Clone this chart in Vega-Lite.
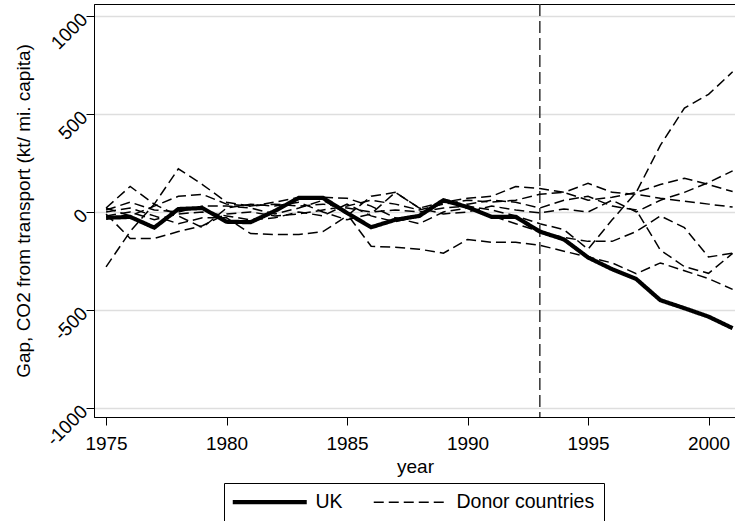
{
  "$schema": "https://vega.github.io/schema/vega-lite/v6.json",
  "width": 642,
  "height": 413,
  "autosize": {"type": "none"},
  "padding": {"left": 94, "top": 4, "right": 0, "bottom": 104},
  "background": "white",
  "config": {
    "font": "Liberation Sans",
    "view": {"stroke": "black", "strokeWidth": 1},
    "axis": {
      "labelFont": "Liberation Sans", "titleFont": "Liberation Sans",
      "labelFontSize": 19, "titleFontSize": 19, "titleFontWeight": "normal",
      "labelColor": "black", "titleColor": "black",
      "domainColor": "black", "tickColor": "black", "tickSize": 8, "tickWidth": 1
    },
    "axisX": {"grid": false, "labelPadding": 9, "titlePadding": 4},
    "axisY": {
      "grid": true, "gridColor": "#dedede", "gridWidth": 1.5,
      "labelAngle": -45, "labelAlign": "right", "labelBaseline": "middle", "labelPadding": 2,
      "titleX": -61, "titleY": 206.5
    },
    "legend": {
      "orient": "none", "legendX": 130, "legendY": 479, "direction": "horizontal", "title": null,
      "strokeColor": "black", "padding": 9, "labelFontSize": 19.5, "labelColor": "black", "labelFont": "Liberation Sans",
      "symbolType": "M-2,0H12.8", "symbolSize": 100, "columnPadding": 27, "labelOffset": 63,
      "symbolStrokeColor": "black", "fillColor": "white"
    }
  },
  "datasets": {
    "gaps": [
      {"c":"UK","g":"UK","year":1975,"v":-30},{"c":"UK","g":"UK","year":1976,"v":-25},{"c":"UK","g":"UK","year":1977,"v":-80},{"c":"UK","g":"UK","year":1978,"v":15},{"c":"UK","g":"UK","year":1979,"v":20},{"c":"UK","g":"UK","year":1980,"v":-50},{"c":"UK","g":"UK","year":1981,"v":-52},{"c":"UK","g":"UK","year":1982,"v":5},{"c":"UK","g":"UK","year":1983,"v":72},{"c":"UK","g":"UK","year":1984,"v":72},{"c":"UK","g":"UK","year":1985,"v":-5},{"c":"UK","g":"UK","year":1986,"v":-78},{"c":"UK","g":"UK","year":1987,"v":-40},{"c":"UK","g":"UK","year":1988,"v":-20},{"c":"UK","g":"UK","year":1989,"v":60},{"c":"UK","g":"UK","year":1990,"v":25},{"c":"UK","g":"UK","year":1991,"v":-25},{"c":"UK","g":"UK","year":1992,"v":-25},{"c":"UK","g":"UK","year":1993,"v":-100},{"c":"UK","g":"UK","year":1994,"v":-140},{"c":"UK","g":"UK","year":1995,"v":-232},{"c":"UK","g":"UK","year":1996,"v":-292},{"c":"UK","g":"UK","year":1997,"v":-342},{"c":"UK","g":"UK","year":1998,"v":-450},{"c":"UK","g":"UK","year":1999,"v":-491},{"c":"UK","g":"UK","year":2000,"v":-534},{"c":"UK","g":"UK","year":2001,"v":-593},
      {"c":"D1","g":"Donor countries","year":1975,"v":-280},{"c":"D1","g":"Donor countries","year":1976,"v":-100},{"c":"D1","g":"Donor countries","year":1977,"v":40},{"c":"D1","g":"Donor countries","year":1978,"v":220},{"c":"D1","g":"Donor countries","year":1979,"v":140},{"c":"D1","g":"Donor countries","year":1980,"v":50},{"c":"D1","g":"Donor countries","year":1981,"v":30},{"c":"D1","g":"Donor countries","year":1982,"v":40},{"c":"D1","g":"Donor countries","year":1983,"v":30},{"c":"D1","g":"Donor countries","year":1984,"v":40},{"c":"D1","g":"Donor countries","year":1985,"v":20},{"c":"D1","g":"Donor countries","year":1986,"v":0},{"c":"D1","g":"Donor countries","year":1987,"v":10},{"c":"D1","g":"Donor countries","year":1988,"v":0},{"c":"D1","g":"Donor countries","year":1989,"v":20},{"c":"D1","g":"Donor countries","year":1990,"v":30},{"c":"D1","g":"Donor countries","year":1991,"v":10},{"c":"D1","g":"Donor countries","year":1992,"v":-20},{"c":"D1","g":"Donor countries","year":1993,"v":-60},{"c":"D1","g":"Donor countries","year":1994,"v":-90},{"c":"D1","g":"Donor countries","year":1995,"v":-190},{"c":"D1","g":"Donor countries","year":1996,"v":-40},{"c":"D1","g":"Donor countries","year":1997,"v":100},{"c":"D1","g":"Donor countries","year":1998,"v":340},{"c":"D1","g":"Donor countries","year":1999,"v":530},{"c":"D1","g":"Donor countries","year":2000,"v":600},{"c":"D1","g":"Donor countries","year":2001,"v":715},
      {"c":"D2","g":"Donor countries","year":1975,"v":20},{"c":"D2","g":"Donor countries","year":1976,"v":130},{"c":"D2","g":"Donor countries","year":1977,"v":40},{"c":"D2","g":"Donor countries","year":1978,"v":-20},{"c":"D2","g":"Donor countries","year":1979,"v":-80},{"c":"D2","g":"Donor countries","year":1980,"v":20},{"c":"D2","g":"Donor countries","year":1981,"v":40},{"c":"D2","g":"Donor countries","year":1982,"v":30},{"c":"D2","g":"Donor countries","year":1983,"v":50},{"c":"D2","g":"Donor countries","year":1984,"v":0},{"c":"D2","g":"Donor countries","year":1985,"v":-40},{"c":"D2","g":"Donor countries","year":1986,"v":-10},{"c":"D2","g":"Donor countries","year":1987,"v":100},{"c":"D2","g":"Donor countries","year":1988,"v":20},{"c":"D2","g":"Donor countries","year":1989,"v":50},{"c":"D2","g":"Donor countries","year":1990,"v":70},{"c":"D2","g":"Donor countries","year":1991,"v":80},{"c":"D2","g":"Donor countries","year":1992,"v":130},{"c":"D2","g":"Donor countries","year":1993,"v":120},{"c":"D2","g":"Donor countries","year":1994,"v":100},{"c":"D2","g":"Donor countries","year":1995,"v":146},{"c":"D2","g":"Donor countries","year":1996,"v":100},{"c":"D2","g":"Donor countries","year":1997,"v":90},{"c":"D2","g":"Donor countries","year":1998,"v":70},{"c":"D2","g":"Donor countries","year":1999,"v":55},{"c":"D2","g":"Donor countries","year":2000,"v":40},{"c":"D2","g":"Donor countries","year":2001,"v":25},
      {"c":"D3","g":"Donor countries","year":1975,"v":-10},{"c":"D3","g":"Donor countries","year":1976,"v":-135},{"c":"D3","g":"Donor countries","year":1977,"v":-135},{"c":"D3","g":"Donor countries","year":1978,"v":-100},{"c":"D3","g":"Donor countries","year":1979,"v":-70},{"c":"D3","g":"Donor countries","year":1980,"v":-10},{"c":"D3","g":"Donor countries","year":1981,"v":0},{"c":"D3","g":"Donor countries","year":1982,"v":-20},{"c":"D3","g":"Donor countries","year":1983,"v":-10},{"c":"D3","g":"Donor countries","year":1984,"v":10},{"c":"D3","g":"Donor countries","year":1985,"v":30},{"c":"D3","g":"Donor countries","year":1986,"v":60},{"c":"D3","g":"Donor countries","year":1987,"v":40},{"c":"D3","g":"Donor countries","year":1988,"v":10},{"c":"D3","g":"Donor countries","year":1989,"v":40},{"c":"D3","g":"Donor countries","year":1990,"v":60},{"c":"D3","g":"Donor countries","year":1991,"v":50},{"c":"D3","g":"Donor countries","year":1992,"v":60},{"c":"D3","g":"Donor countries","year":1993,"v":90},{"c":"D3","g":"Donor countries","year":1994,"v":100},{"c":"D3","g":"Donor countries","year":1995,"v":60},{"c":"D3","g":"Donor countries","year":1996,"v":75},{"c":"D3","g":"Donor countries","year":1997,"v":100},{"c":"D3","g":"Donor countries","year":1998,"v":140},{"c":"D3","g":"Donor countries","year":1999,"v":172},{"c":"D3","g":"Donor countries","year":2000,"v":140},{"c":"D3","g":"Donor countries","year":2001,"v":104},
      {"c":"D4","g":"Donor countries","year":1975,"v":0},{"c":"D4","g":"Donor countries","year":1976,"v":20},{"c":"D4","g":"Donor countries","year":1977,"v":-20},{"c":"D4","g":"Donor countries","year":1978,"v":-60},{"c":"D4","g":"Donor countries","year":1979,"v":-30},{"c":"D4","g":"Donor countries","year":1980,"v":-30},{"c":"D4","g":"Donor countries","year":1981,"v":-110},{"c":"D4","g":"Donor countries","year":1982,"v":-115},{"c":"D4","g":"Donor countries","year":1983,"v":-115},{"c":"D4","g":"Donor countries","year":1984,"v":-100},{"c":"D4","g":"Donor countries","year":1985,"v":-20},{"c":"D4","g":"Donor countries","year":1986,"v":80},{"c":"D4","g":"Donor countries","year":1987,"v":100},{"c":"D4","g":"Donor countries","year":1988,"v":20},{"c":"D4","g":"Donor countries","year":1989,"v":-10},{"c":"D4","g":"Donor countries","year":1990,"v":0},{"c":"D4","g":"Donor countries","year":1991,"v":30},{"c":"D4","g":"Donor countries","year":1992,"v":10},{"c":"D4","g":"Donor countries","year":1993,"v":-5},{"c":"D4","g":"Donor countries","year":1994,"v":15},{"c":"D4","g":"Donor countries","year":1995,"v":0},{"c":"D4","g":"Donor countries","year":1996,"v":60},{"c":"D4","g":"Donor countries","year":1997,"v":0},{"c":"D4","g":"Donor countries","year":1998,"v":60},{"c":"D4","g":"Donor countries","year":1999,"v":100},{"c":"D4","g":"Donor countries","year":2000,"v":150},{"c":"D4","g":"Donor countries","year":2001,"v":210},
      {"c":"D5","g":"Donor countries","year":1975,"v":10},{"c":"D5","g":"Donor countries","year":1976,"v":50},{"c":"D5","g":"Donor countries","year":1977,"v":10},{"c":"D5","g":"Donor countries","year":1978,"v":0},{"c":"D5","g":"Donor countries","year":1979,"v":30},{"c":"D5","g":"Donor countries","year":1980,"v":30},{"c":"D5","g":"Donor countries","year":1981,"v":20},{"c":"D5","g":"Donor countries","year":1982,"v":-10},{"c":"D5","g":"Donor countries","year":1983,"v":20},{"c":"D5","g":"Donor countries","year":1984,"v":60},{"c":"D5","g":"Donor countries","year":1985,"v":-10},{"c":"D5","g":"Donor countries","year":1986,"v":-175},{"c":"D5","g":"Donor countries","year":1987,"v":-180},{"c":"D5","g":"Donor countries","year":1988,"v":-190},{"c":"D5","g":"Donor countries","year":1989,"v":-210},{"c":"D5","g":"Donor countries","year":1990,"v":-140},{"c":"D5","g":"Donor countries","year":1991,"v":-155},{"c":"D5","g":"Donor countries","year":1992,"v":-155},{"c":"D5","g":"Donor countries","year":1993,"v":-170},{"c":"D5","g":"Donor countries","year":1994,"v":-200},{"c":"D5","g":"Donor countries","year":1995,"v":-230},{"c":"D5","g":"Donor countries","year":1996,"v":-260},{"c":"D5","g":"Donor countries","year":1997,"v":-315},{"c":"D5","g":"Donor countries","year":1998,"v":-260},{"c":"D5","g":"Donor countries","year":1999,"v":-300},{"c":"D5","g":"Donor countries","year":2000,"v":-340},{"c":"D5","g":"Donor countries","year":2001,"v":-395},
      {"c":"D6","g":"Donor countries","year":1975,"v":20},{"c":"D6","g":"Donor countries","year":1976,"v":-20},{"c":"D6","g":"Donor countries","year":1977,"v":30},{"c":"D6","g":"Donor countries","year":1978,"v":80},{"c":"D6","g":"Donor countries","year":1979,"v":90},{"c":"D6","g":"Donor countries","year":1980,"v":40},{"c":"D6","g":"Donor countries","year":1981,"v":30},{"c":"D6","g":"Donor countries","year":1982,"v":50},{"c":"D6","g":"Donor countries","year":1983,"v":75},{"c":"D6","g":"Donor countries","year":1984,"v":75},{"c":"D6","g":"Donor countries","year":1985,"v":70},{"c":"D6","g":"Donor countries","year":1986,"v":30},{"c":"D6","g":"Donor countries","year":1987,"v":-30},{"c":"D6","g":"Donor countries","year":1988,"v":-60},{"c":"D6","g":"Donor countries","year":1989,"v":0},{"c":"D6","g":"Donor countries","year":1990,"v":20},{"c":"D6","g":"Donor countries","year":1991,"v":-20},{"c":"D6","g":"Donor countries","year":1992,"v":-60},{"c":"D6","g":"Donor countries","year":1993,"v":-100},{"c":"D6","g":"Donor countries","year":1994,"v":-130},{"c":"D6","g":"Donor countries","year":1995,"v":-150},{"c":"D6","g":"Donor countries","year":1996,"v":-150},{"c":"D6","g":"Donor countries","year":1997,"v":-100},{"c":"D6","g":"Donor countries","year":1998,"v":-20},{"c":"D6","g":"Donor countries","year":1999,"v":-80},{"c":"D6","g":"Donor countries","year":2000,"v":-230},{"c":"D6","g":"Donor countries","year":2001,"v":-210},
      {"c":"D7","g":"Donor countries","year":1975,"v":-20},{"c":"D7","g":"Donor countries","year":1976,"v":0},{"c":"D7","g":"Donor countries","year":1977,"v":-40},{"c":"D7","g":"Donor countries","year":1978,"v":-10},{"c":"D7","g":"Donor countries","year":1979,"v":0},{"c":"D7","g":"Donor countries","year":1980,"v":-20},{"c":"D7","g":"Donor countries","year":1981,"v":-40},{"c":"D7","g":"Donor countries","year":1982,"v":-30},{"c":"D7","g":"Donor countries","year":1983,"v":0},{"c":"D7","g":"Donor countries","year":1984,"v":-20},{"c":"D7","g":"Donor countries","year":1985,"v":40},{"c":"D7","g":"Donor countries","year":1986,"v":-20},{"c":"D7","g":"Donor countries","year":1987,"v":-50},{"c":"D7","g":"Donor countries","year":1988,"v":-20},{"c":"D7","g":"Donor countries","year":1989,"v":50},{"c":"D7","g":"Donor countries","year":1990,"v":40},{"c":"D7","g":"Donor countries","year":1991,"v":60},{"c":"D7","g":"Donor countries","year":1992,"v":50},{"c":"D7","g":"Donor countries","year":1993,"v":20},{"c":"D7","g":"Donor countries","year":1994,"v":60},{"c":"D7","g":"Donor countries","year":1995,"v":80},{"c":"D7","g":"Donor countries","year":1996,"v":30},{"c":"D7","g":"Donor countries","year":1997,"v":10},{"c":"D7","g":"Donor countries","year":1998,"v":-194},{"c":"D7","g":"Donor countries","year":1999,"v":-279},{"c":"D7","g":"Donor countries","year":2000,"v":-313},{"c":"D7","g":"Donor countries","year":2001,"v":-211}
    ],
    "treat": [{"year": 1993}]
  },
  "layer": [
    {
      "data": {"name": "treat"},
      "mark": {"type": "rule", "color": "#333333", "strokeWidth": 1.5, "strokeDash": [12, 5]},
      "encoding": {
        "x": {"field": "year", "type": "quantitative", "title": "year",
              "scale": {"domain": [1974.5, 2001.14], "nice": false, "zero": false},
              "axis": {"values": [1975, 1980, 1985, 1990, 1995, 2000], "format": "d"}}
      }
    },
    {
      "data": {"name": "gaps"},
      "transform": [{"filter": "datum.g == 'Donor countries'"}],
      "mark": {"type": "line", "color": "black"},
      "encoding": {
        "x": {"field": "year", "type": "quantitative", "title": "year",
              "scale": {"domain": [1974.5, 2001.14], "nice": false, "zero": false},
              "axis": {"values": [1975, 1980, 1985, 1990, 1995, 2000], "format": "d"}},
        "y": {"field": "v", "type": "quantitative", "title": "Gap, CO2 from transport (kt/ mi. capita)",
              "scale": {"domain": [-1046, 1061], "nice": false, "zero": false},
              "axis": {"values": [-1000, -500, 0, 500, 1000], "labelExpr": "'' + datum.value"}},
        "detail": {"field": "c"},
        "strokeDash": {"field": "g", "type": "nominal",
              "scale": {"domain": ["UK", "Donor countries"], "range": [[1, 0], [10, 5]]}},
        "strokeWidth": {"field": "g", "type": "nominal",
              "scale": {"domain": ["UK", "Donor countries"], "range": [4.2, 1.5]}}
      }
    },
    {
      "data": {"name": "gaps"},
      "transform": [{"filter": "datum.g == 'UK'"}],
      "mark": {"type": "line", "color": "black"},
      "encoding": {
        "x": {"field": "year", "type": "quantitative", "title": "year",
              "scale": {"domain": [1974.5, 2001.14], "nice": false, "zero": false},
              "axis": {"values": [1975, 1980, 1985, 1990, 1995, 2000], "format": "d"}},
        "y": {"field": "v", "type": "quantitative", "title": "Gap, CO2 from transport (kt/ mi. capita)",
              "scale": {"domain": [-1046, 1061], "nice": false, "zero": false},
              "axis": {"values": [-1000, -500, 0, 500, 1000], "labelExpr": "'' + datum.value"}},
        "detail": {"field": "c"},
        "strokeDash": {"field": "g", "type": "nominal",
              "scale": {"domain": ["UK", "Donor countries"], "range": [[1, 0], [10, 5]]}},
        "strokeWidth": {"field": "g", "type": "nominal",
              "scale": {"domain": ["UK", "Donor countries"], "range": [4.2, 1.5]}}
      }
    }
  ]
}
